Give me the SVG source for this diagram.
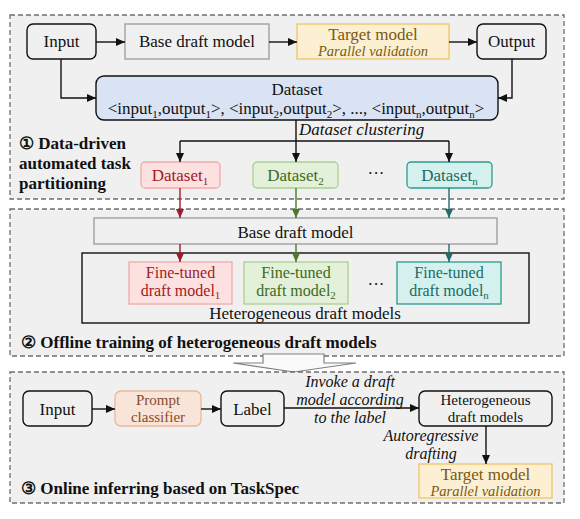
<svg xmlns="http://www.w3.org/2000/svg" width="580" height="519" viewBox="0 0 580 519" font-family="'Liberation Serif', 'DejaVu Serif', serif">
<defs>
<style>
text{font-family:'Liberation Serif','DejaVu Serif',serif;font-size:17px;fill:#111;}
.c{text-anchor:middle;}
.it{font-style:italic;}
.sm{font-size:14.5px;}
.f16{font-size:16px;}
.f15{font-size:15px;}
.b{font-weight:bold;}
.sec{fill:#f0f0f0;stroke:#6e6e6e;stroke-width:1.3;stroke-dasharray:5 3;}
.node{fill:#f0f0f0;stroke:#111;stroke-width:1.4;}
.base{fill:#f0f0f0;stroke:#a0a0a0;stroke-width:1.4;}
.tgt{fill:#fcefd2;stroke:#eec56a;stroke-width:1.3;}
.tgtt{fill:#7a5a12;}
.r{fill:#fde1e1;stroke:#f2a9a9;stroke-width:1.3;}
.rt{fill:#a01a22;}
.g{fill:#e3f0da;stroke:#a9d18e;stroke-width:1.3;}
.gt{fill:#3e6a22;}
.t{fill:#d4f1ee;stroke:#2c9a90;stroke-width:1.3;}
.tt{fill:#1b6a66;}
.p{fill:#f8e4d8;stroke:#e8b99c;stroke-width:1.3;}
.pt{fill:#8a4a2c;}
.ln{fill:none;stroke:#111;stroke-width:1.4;}
.lr{fill:none;stroke:#9e1a28;stroke-width:1.4;}
.lg{fill:none;stroke:#4c7a2a;stroke-width:1.4;}
.lt{fill:none;stroke:#1e6e69;stroke-width:1.4;}
</style>
<marker id="ak" markerUnits="userSpaceOnUse" markerWidth="9" markerHeight="8" refX="9" refY="4" orient="auto"><path d="M0,0 L9,4 L0,8 z" fill="#111"/></marker>
<marker id="ar" markerUnits="userSpaceOnUse" markerWidth="9" markerHeight="8" refX="9" refY="4" orient="auto"><path d="M0,0 L9,4 L0,8 z" fill="#9e1a28"/></marker>
<marker id="ag" markerUnits="userSpaceOnUse" markerWidth="9" markerHeight="8" refX="9" refY="4" orient="auto"><path d="M0,0 L9,4 L0,8 z" fill="#4c7a2a"/></marker>
<marker id="at" markerUnits="userSpaceOnUse" markerWidth="9" markerHeight="8" refX="9" refY="4" orient="auto"><path d="M0,0 L9,4 L0,8 z" fill="#1e6e69"/></marker>
</defs>
<rect width="580" height="519" fill="#ffffff"/>

<g id="section1"><rect class="sec" x="10" y="15" width="554" height="184"/></g>
<g id="section2"><rect class="sec" x="10" y="209" width="554" height="147"/></g>
<g id="bigArrow"><polygon points="263,354 324,354 324,363 356,363 294,372 233,363 263,363" fill="#fafafa" stroke="#808080" stroke-width="1.2"/></g>
<g id="section3"><rect class="sec" x="10" y="372" width="554" height="131"/></g>

<!-- Section 1 -->
<g id="input1"><rect class="node" x="27" y="24" width="69" height="35" rx="6"/><text class="c" x="61.5" y="47">Input</text></g>
<g id="base1"><rect class="base" x="125" y="24" width="144" height="35"/><text class="c" x="197" y="47">Base draft model</text></g>
<g id="target1"><rect class="tgt" x="297" y="24" width="152" height="35"/><text class="c tgtt" x="373" y="40">Target model</text><text class="c it sm tgtt" x="373" y="56">Parallel validation</text></g>
<g id="output1"><rect class="node" x="477" y="24" width="69" height="35" rx="6"/><text class="c" x="511.5" y="47">Output</text></g>
<g id="dataset"><rect x="96" y="76" width="402" height="44" rx="8" fill="#dae3f3" stroke="#111" stroke-width="1.4"/>
<text class="c" x="297" y="95">Dataset</text>
<text class="c" x="296" y="114">&lt;input<tspan font-size="11" dy="4">1</tspan><tspan dy="-4">,output</tspan><tspan font-size="11" dy="4">1</tspan><tspan dy="-4">&gt;, &lt;input</tspan><tspan font-size="11" dy="4">2</tspan><tspan dy="-4">,output</tspan><tspan font-size="11" dy="4">2</tspan><tspan dy="-4">&gt;, ..., &lt;input</tspan><tspan font-size="11" dy="4">n</tspan><tspan dy="-4">,output</tspan><tspan font-size="11" dy="4">n</tspan><tspan dy="-4">&gt;</tspan></text></g>
<g id="ds1"><rect class="r" x="141" y="162" width="79" height="26" rx="4"/><text class="c rt" x="180" y="181">Dataset<tspan font-size="11" dy="4">1</tspan></text></g>
<g id="ds2"><rect class="g" x="253" y="162" width="85" height="26" rx="4"/><text class="c gt" x="295.5" y="181">Dataset<tspan font-size="11" dy="4">2</tspan></text></g>
<g id="dsn"><rect class="t" x="407" y="162" width="85" height="26" rx="4"/><text class="c tt" x="449.5" y="181">Dataset<tspan font-size="11" dy="4">n</tspan></text></g>
<text class="c" x="376" y="179">···</text>
<text class="it" x="299" y="135">Dataset clustering</text>
<text class="b" x="19" y="149">① Data-driven</text>
<text class="b" x="19" y="169">automated task</text>
<text class="b" x="19" y="189">partitioning</text>

<!-- Section 2 -->
<g id="base2"><rect class="base" x="94" y="218" width="403" height="26"/><text class="c" x="295.5" y="238">Base draft model</text></g>
<g id="hetero"><rect x="82" y="253" width="447" height="70" fill="none" stroke="#111" stroke-width="1.4"/><text class="c" x="305" y="319">Heterogeneous draft models</text></g>
<g id="ft1"><rect class="r" x="129" y="262" width="103" height="42"/><text class="c rt f16" x="180.5" y="278">Fine-tuned</text><text class="c rt f16" x="180.5" y="296">draft model<tspan font-size="11" dy="3">1</tspan></text></g>
<g id="ft2"><rect class="g" x="244" y="262" width="104" height="42"/><text class="c gt f16" x="296" y="278">Fine-tuned</text><text class="c gt f16" x="296" y="296">draft model<tspan font-size="11" dy="3">2</tspan></text></g>
<g id="ftn"><rect class="t" x="397" y="262" width="104" height="42"/><text class="c tt f16" x="449" y="278">Fine-tuned</text><text class="c tt f16" x="449" y="296">draft model<tspan font-size="11" dy="3">n</tspan></text></g>
<text class="c" x="376" y="290">···</text>
<text class="b" x="21" y="348">② Offline training of heterogeneous draft models</text>

<!-- Section 3 -->
<g id="input3"><rect class="node" x="23" y="391" width="69" height="35" rx="6"/><text class="c" x="57.5" y="415">Input</text></g>
<g id="prompt"><rect class="p" x="115" y="391" width="86" height="35" rx="6"/><text class="c pt f15" x="158" y="405">Prompt</text><text class="c pt f15" x="158" y="421.5">classifier</text></g>
<g id="label"><rect class="node" x="221" y="391" width="63" height="35" rx="6"/><text class="c" x="252.5" y="415">Label</text></g>
<g id="hetero3"><rect class="node" x="419" y="391" width="133" height="35" rx="6"/><text class="c f15" x="485.5" y="405">Heterogeneous</text><text class="c f15" x="485.5" y="421.5">draft models</text></g>
<g id="target3"><rect class="tgt" x="419" y="464" width="133" height="34"/><text class="c tgtt" x="485.5" y="480">Target model</text><text class="c it sm tgtt" x="485.5" y="496">Parallel validation</text></g>
<text class="c it f16" x="350" y="387">Invoke a draft</text>
<text class="c it f16" x="350" y="405">model according</text>
<text class="c it f16" x="350" y="423">to the label</text>
<text class="c it f16" x="431" y="441">Autoregressive</text>
<text class="c it f16" x="431" y="459">drafting</text>
<text class="b" x="21" y="494">③ Online inferring based on TaskSpec</text>

<g id="connectors">
<line class="ln" x1="96" y1="42" x2="125" y2="42" marker-end="url(#ak)"/>
<line class="ln" x1="269" y1="42" x2="297" y2="42" marker-end="url(#ak)"/>
<line class="ln" x1="449" y1="42" x2="477" y2="42" marker-end="url(#ak)"/>
<polyline class="ln" points="61,59 61,98 96,98" marker-end="url(#ak)"/>
<polyline class="ln" points="512,59 512,98 498,98" marker-end="url(#ak)"/>
<line class="ln" x1="296" y1="120" x2="296" y2="162" marker-end="url(#ak)"/>
<polyline class="ln" points="180,141 449,141"/>
<line class="ln" x1="180" y1="141" x2="180" y2="162" marker-end="url(#ak)"/>
<line class="ln" x1="449" y1="141" x2="449" y2="162" marker-end="url(#ak)"/>
<line class="lr" x1="180" y1="188" x2="180" y2="218" marker-end="url(#ar)"/>
<line class="lg" x1="296" y1="188" x2="296" y2="218" marker-end="url(#ag)"/>
<line class="lt" x1="449" y1="188" x2="449" y2="218" marker-end="url(#at)"/>
<line class="lr" x1="180" y1="244" x2="180" y2="262" marker-end="url(#ar)"/>
<line class="lg" x1="296" y1="244" x2="296" y2="262" marker-end="url(#ag)"/>
<line class="lt" x1="449" y1="244" x2="449" y2="262" marker-end="url(#at)"/>
<line class="ln" x1="92" y1="409" x2="115" y2="409" marker-end="url(#ak)"/>
<line class="ln" x1="201" y1="409" x2="221" y2="409" marker-end="url(#ak)"/>
<line class="ln" x1="284" y1="408" x2="419" y2="408" marker-end="url(#ak)"/>
<line class="ln" x1="486" y1="426" x2="486" y2="464" marker-end="url(#ak)"/>
</g>
</svg>
